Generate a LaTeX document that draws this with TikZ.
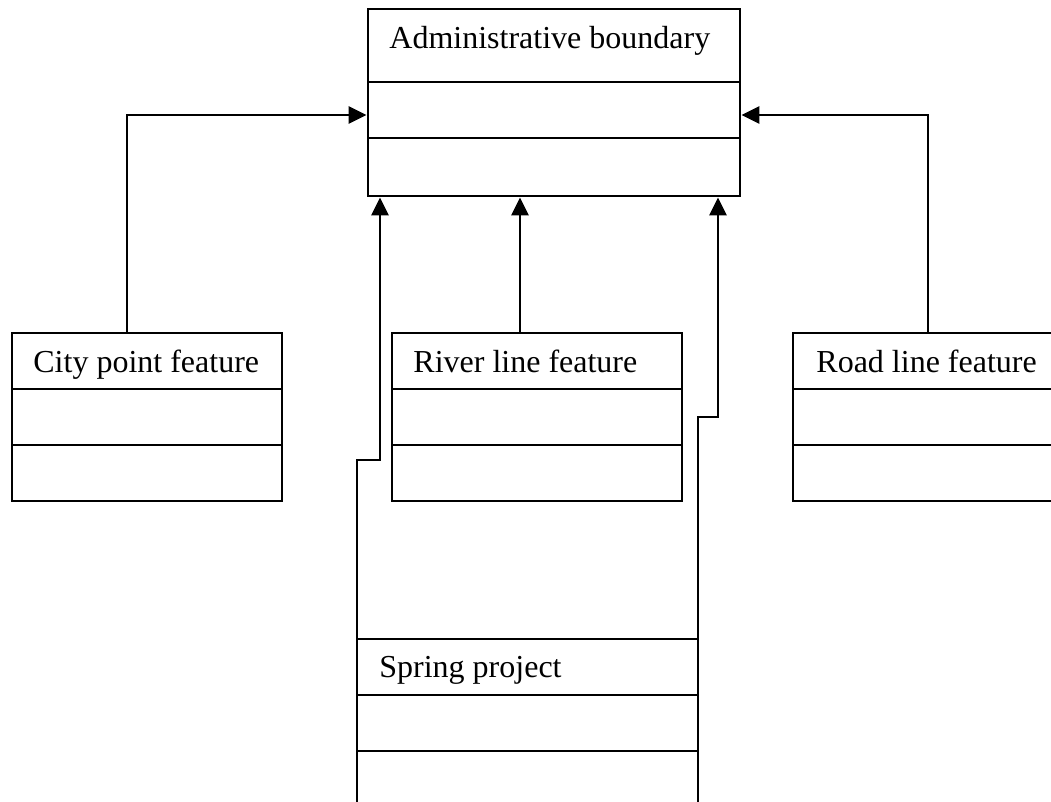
\documentclass[tikz,border=0pt]{standalone}
\usepackage{fontspec}
\setmainfont{Liberation Serif}
\usetikzlibrary{arrows.meta}
\begin{document}
\begin{tikzpicture}[x=1pt,y=-1pt,line width=2.8pt,
  classbox/.style={draw,rectangle,inner sep=0pt,outer sep=0pt,anchor=north west},
  classname/.style={anchor=base west,inner sep=0pt,font=\fontsize{32}{38}\selectfont},
  conn/.style={-{Triangle[length=18pt,width=17pt]},line join=miter}]
\useasboundingbox (0,0) rectangle (1051,802);
\clip (0,0) rectangle (1051,802);

% class boxes
\node[classbox,minimum width=372pt,minimum height=187pt] (admin) at (368,9) {};
\node[classbox,minimum width=270pt,minimum height=168pt] (city) at (12,333) {};
\node[classbox,minimum width=290pt,minimum height=168pt] (river) at (392,333) {};
\node[classbox,minimum width=270pt,minimum height=168pt] (road) at (793,333) {};
\node[classbox,minimum width=341pt,minimum height=175pt] (spring) at (357,639) {};

% compartment separators
\foreach \b/\a/\c in {admin/73/129, city/56/112, river/56/112, road/56/112, spring/56/112}{
  \draw ([yshift=-\a pt]\b.north west) -- ([yshift=-\a pt]\b.north east);
  \draw ([yshift=-\c pt]\b.north west) -- ([yshift=-\c pt]\b.north east);
}

% class names
\node[classname] (adminT) at (388,49) {Administrative boundary};
\node[classname] (cityT) at (32,372) {City point feature};
\node[classname] (riverT) at (412,372) {River line feature};
\node[classname] (roadT) at (815,372) {Road line feature};
\node[classname] (springT) at (378,677) {Spring project};

% connector end points
\coordinate (adminW) at (366.6,115);
\coordinate (adminE) at (741.4,115);
\coordinate (adminS1) at (380,197.4);
\coordinate (adminS2) at (520,197.4);
\coordinate (adminS3) at (718,197.4);
\coordinate (cityUp) at (127,333);
\coordinate (riverUp) at (520,333);
\coordinate (roadUp) at (928,333);
\coordinate (springL) at ([yshift=-84pt]spring.north west);
\coordinate (springR) at (spring.north east);

% generalisation connectors
\draw[conn] (cityUp) |- (adminW);
\draw[conn] (roadUp) |- (adminE);
\draw[conn] (riverUp) -- (adminS2);
\draw[conn] (springL) -- ++(0,-263) -| (adminS1);
\draw[conn] (springR) -- ++(0,-222) -| (adminS3);
\end{tikzpicture}
\end{document}
